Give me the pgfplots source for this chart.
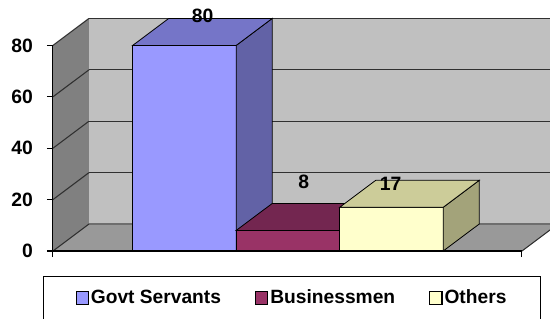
\documentclass[border=0pt]{standalone}
\usepackage{fontspec}
\setmainfont{Liberation Sans}
\usepackage{pgfplots}
\pgfplotsset{compat=1.18}
\definecolor{gvfront}{HTML}{9999FF}
\definecolor{gvtop}{HTML}{7575C8}
\definecolor{gvside}{HTML}{6262A6}
\definecolor{bsfront}{HTML}{993366}
\definecolor{bstop}{HTML}{732650}
\definecolor{bsside}{HTML}{602040}
\definecolor{otfront}{HTML}{FFFFCC}
\definecolor{ottop}{HTML}{CCCC99}
\definecolor{otside}{HTML}{A3A37A}
\definecolor{backwall}{HTML}{C0C0C0}
\definecolor{leftwall}{HTML}{808080}
\definecolor{floorc}{HTML}{999999}
\definecolor{gridc}{HTML}{303030}
\begin{document}
\begin{tikzpicture}[font=\bfseries\fontsize{14.3}{17}\selectfont]
\begin{axis}[
  x=77.625pt, y=1.9275pt,
  xmin=-0.2705, xmax=4.261, ymin=0, ymax=80,
  axis lines=left, axis line style={-, black, line width=0.8pt},
  axis on top,
  clip=false,
  ytick={0,20,40,60,80},
  yticklabels={0,20,40,60,80},
  xtick={-0.2705,4.261}, xticklabels={,},
  tick align=outside, major tick length=4.5pt,
  tick style={black, line width=0.8pt},
  yticklabel style={font=\bfseries\fontsize{14.5}{17}\selectfont, xshift=-7pt},
  legend columns=3,
  legend image code/.code={\draw[#1, draw=black, line width=0.8pt] (0pt,-4.6pt) rectangle (9.2pt,4.6pt);},
  legend style={at={(axis cs:2.039,-9.73)}, anchor=north, draw=black, line width=1pt,
    inner xsep=24pt, inner ysep=8pt,
    font=\bfseries\fontsize{14.4}{17}\selectfont,
    nodes={inner xsep=1.5pt},
    /tikz/every even column/.append style={column sep=24pt}},
]
% walls
\addplot[forget plot, fill=backwall, draw=none] coordinates {(0.0775,10.5) (4.609,10.5) (4.609,90.5) (0.0775,90.5)} -- cycle;
\addplot[forget plot, fill=leftwall, draw=none] coordinates {(-0.2705,0) (0.0775,10.5) (0.0775,90.5) (-0.2705,80)} -- cycle;
\addplot[forget plot, fill=floorc, draw=none] coordinates {(-0.2705,0) (4.261,0) (4.609,10.5) (0.0775,10.5)} -- cycle;
% back wall grid lines
\addplot[forget plot, gridc, line width=1pt] coordinates {(0.0775,30.5) (4.609,30.5)};
\addplot[forget plot, gridc, line width=1pt] coordinates {(0.0775,50.5) (4.609,50.5)};
\addplot[forget plot, gridc, line width=1pt] coordinates {(0.0775,70.5) (4.609,70.5)};
\addplot[forget plot, gridc, line width=1pt] coordinates {(0.0775,90.5) (4.609,90.5)};
\addplot[forget plot, gridc!70, line width=0.8pt] coordinates {(0.0775,10.5) (4.609,10.5)};
% left wall grid lines
\addplot[forget plot, gridc, line width=0.8pt] coordinates {(-0.2705,0) (0.0775,10.5)};
\addplot[forget plot, gridc, line width=0.8pt] coordinates {(-0.2705,20) (0.0775,30.5)};
\addplot[forget plot, gridc, line width=0.8pt] coordinates {(-0.2705,40) (0.0775,50.5)};
\addplot[forget plot, gridc, line width=0.8pt] coordinates {(-0.2705,60) (0.0775,70.5)};
\addplot[forget plot, gridc, line width=0.8pt] coordinates {(-0.2705,80) (0.0775,90.5)};
\addplot[forget plot, gridc, line width=0.8pt] coordinates {(4.261,0) (4.609,10.5)};
% Govt Servants = 80
\addplot[forget plot, fill=gvfront, draw=black, line width=0.6pt] coordinates {(0.5,0) (1.5,0) (1.5,80) (0.5,80)} -- cycle;
\addplot[forget plot, fill=gvside, draw=black, line width=0.6pt] coordinates {(1.5,0) (1.848,10.5) (1.848,90.5) (1.5,80)} -- cycle;
\addplot[forget plot, fill=gvtop, draw=black, line width=0.6pt] coordinates {(0.5,80) (1.5,80) (1.848,90.5) (0.848,90.5)} -- cycle;
% Businessmen = 8
\addplot[forget plot, fill=bsfront, draw=black, line width=0.6pt] coordinates {(1.5,0) (2.5,0) (2.5,8) (1.5,8)} -- cycle;
\addplot[forget plot, fill=bsside, draw=black, line width=0.6pt] coordinates {(2.5,0) (2.848,10.5) (2.848,18.5) (2.5,8)} -- cycle;
\addplot[forget plot, fill=bstop, draw=black, line width=0.6pt] coordinates {(1.5,8) (2.5,8) (2.848,18.5) (1.848,18.5)} -- cycle;
% Others = 17
\addplot[forget plot, fill=otfront, draw=black, line width=0.6pt] coordinates {(2.5,0) (3.5,0) (3.5,17) (2.5,17)} -- cycle;
\addplot[forget plot, fill=otside, draw=black, line width=0.6pt] coordinates {(3.5,0) (3.848,10.5) (3.848,27.5) (3.5,17)} -- cycle;
\addplot[forget plot, fill=ottop, draw=black, line width=0.6pt] coordinates {(2.5,17) (3.5,17) (3.848,27.5) (2.848,27.5)} -- cycle;
% data labels
\addplot[forget plot, draw=none, mark=none, nodes near coords, point meta=explicit symbolic,
  every node near coord/.append style={anchor=center, inner sep=0pt, font=\bfseries\fontsize{14.5}{17}\selectfont}]
  coordinates {(1.176,91.4)[80] (2.152,27.0)[8] (2.993,26.1)[17]};
% legend
\addlegendimage{fill=gvfront}
\addlegendentry{Govt Servants}
\addlegendimage{fill=bsfront}
\addlegendentry{Businessmen}
\addlegendimage{fill=otfront}
\addlegendentry{Others}
\coordinate (bbsw) at (axis cs:-0.7821,-26.07);
\coordinate (bbne) at (axis cs:4.532,97.67);
\end{axis}
\pgfresetboundingbox
\useasboundingbox (bbsw) rectangle (bbne);
\end{tikzpicture}
\end{document}
